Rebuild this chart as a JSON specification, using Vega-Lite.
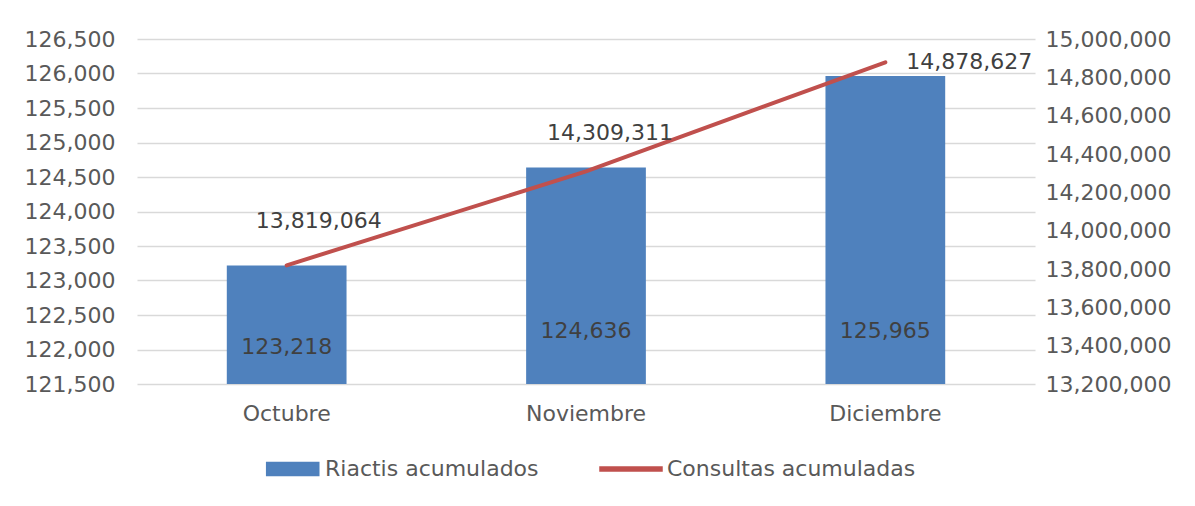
{
  "$schema": "https://vega.github.io/schema/vega-lite/v6.json",
  "width": 898,
  "height": 345,
  "autosize": "none",
  "padding": {"left": 137, "top": 39, "right": 160, "bottom": 122},
  "background": "white",
  "config": {
    "view": {"stroke": null},
    "font": "DejaVu Sans",
    "axis": {"labelFont": "DejaVu Sans", "labelFontSize": 22, "labelColor": "#595959", "domain": false, "ticks": false, "title": null},
    "legend": {"layout": {"bottom": {"anchor": "middle"}}}
  },
  "data": {
    "values": [
      {"mes": "Octubre", "riactis": 123218, "consultas": 13819064},
      {"mes": "Noviembre", "riactis": 124636, "consultas": 14309311},
      {"mes": "Diciembre", "riactis": 125965, "consultas": 14878627}
    ]
  },
  "encoding": {
    "x": {"field": "mes", "type": "nominal", "sort": null, "scale": {"paddingInner": 0.6, "paddingOuter": 0.3}, "axis": {"labelAngle": 0, "labelPadding": 19, "grid": false}}
  },
  "layer": [
    {
      "encoding": {
        "y": {"field": "riactis", "type": "quantitative", "scale": {"domain": [121500, 126500], "zero": false, "nice": false}, "axis": {"orient": "left", "values": [121500, 122000, 122500, 123000, 123500, 124000, 124500, 125000, 125500, 126000, 126500], "labelExpr": "format(datum.value, ',')", "grid": true, "gridColor": "#D9D9D9", "gridWidth": 1.3, "labelPadding": 22}}
      },
      "layer": [
        {
          "mark": {"type": "bar"},
          "encoding": {
            "y2": {"datum": 121500},
            "color": {
              "datum": "Riactis acumulados", "type": "nominal",
              "scale": {"domain": ["Riactis acumulados", "Consultas acumuladas"], "range": ["#4F81BD", "#C0504D"]},
              "legend": {
                "orient": "bottom", "direction": "horizontal", "title": null, "offset": 13,
                "symbolSize": 3844, "labelFontSize": 22, "labelColor": "#595959", "labelFont": "DejaVu Sans", "labelOffset": 4, "columnPadding": 58, "labelLimit": 500,
                "encode": {"symbols": {"update": {
                  "shape": {"signal": "datum.value === 'Riactis acumulados' ? 'M-0.72,-0.21H0.96V0.21H-0.72Z' : 'M-1,-0.065H1V0.065H-1Z'"},
                  "fill": {"signal": "datum.value === 'Riactis acumulados' ? '#4F81BD' : '#C0504D'"},
                  "stroke": {"value": "transparent"},
                  "opacity": {"value": 1},
                  "size": {"value": 3844}
                }}}
              }
            }
          }
        },
        {
          "transform": [{"filter": "datum.mes === 'Octubre'"}],
          "mark": {"type": "text", "fontSize": 22, "color": "#404040", "dy": 308, "baseline": "middle"},
          "encoding": {
            "y": {"value": 0},
            "text": {"field": "riactis", "type": "quantitative", "format": ","}
          }
        },
        {
          "transform": [{"filter": "datum.mes !== 'Octubre'"}],
          "mark": {"type": "text", "fontSize": 22, "color": "#404040", "dy": 292, "baseline": "middle"},
          "encoding": {
            "y": {"value": 0},
            "text": {"field": "riactis", "type": "quantitative", "format": ","}
          }
        }
      ]
    },
    {
      "encoding": {
        "y": {"field": "consultas", "type": "quantitative", "scale": {"domain": [13200000, 15000000], "zero": false, "nice": false}, "axis": {"orient": "right", "values": [13200000, 13400000, 13600000, 13800000, 14000000, 14200000, 14400000, 14600000, 14800000, 15000000], "labelExpr": "format(datum.value, ',')", "grid": false, "labelPadding": 10}}
      },
      "layer": [
        {
          "mark": {"type": "line", "strokeWidth": 4, "strokeCap": "round"},
          "encoding": {
            "color": {"datum": "Consultas acumuladas", "type": "nominal", "legend": null}
          }
        },
        {
          "transform": [{"filter": "datum.mes === 'Octubre'"}],
          "mark": {"type": "text", "fontSize": 22, "color": "#404040", "dx": 32, "dy": -44, "baseline": "middle"},
          "encoding": {"text": {"field": "consultas", "type": "quantitative", "format": ","}}
        },
        {
          "transform": [{"filter": "datum.mes === 'Noviembre'"}],
          "mark": {"type": "text", "fontSize": 22, "color": "#404040", "dx": 24, "dy": -38, "baseline": "middle"},
          "encoding": {"text": {"field": "consultas", "type": "quantitative", "format": ","}}
        },
        {
          "transform": [{"filter": "datum.mes === 'Diciembre'"}],
          "mark": {"type": "text", "fontSize": 22, "color": "#404040", "dx": 21, "dy": 0, "align": "left", "baseline": "middle"},
          "encoding": {"text": {"field": "consultas", "type": "quantitative", "format": ","}}
        }
      ]
    }
  ],
  "resolve": {"scale": {"y": "independent"}}
}
